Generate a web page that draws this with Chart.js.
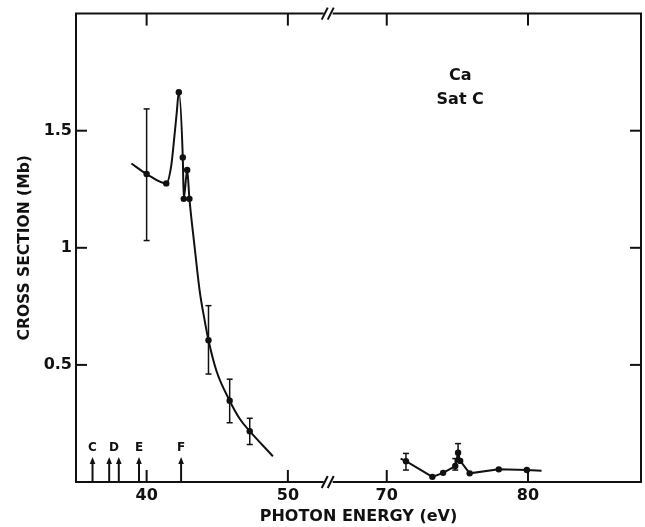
<!DOCTYPE html>
<html>
<head>
<meta charset="utf-8">
<script src="https://cdn.jsdelivr.net/npm/chart.js@4.4.0/dist/chart.umd.min.js"></script>
<style>
  html, body { margin: 0; padding: 0; background: #fff; }
  canvas { display: block; }
</style>
</head>
<body>
<canvas id="chart" width="645" height="527"></canvas>
<script>
// x axis is broken: 52.75 .. 65.75 eV is cut out
const BREAK_AT = 52.75;
const BREAK_GAP = 13;
const toAxis = e => (e >= BREAK_AT + BREAK_GAP ? e - BREAK_GAP : e);
const fromAxis = v => (v > BREAK_AT ? v + BREAK_GAP : v);

const X_TICKS = [40, 50, 70, 80];
const Y_TICKS = [0.5, 1, 1.5];
const Y_TICK_LABELS = ["0.5", "1", "1.5"];

// measured points (eV, Mb)
const ptE     = [40.0, 41.39, 42.28, 42.56, 42.63, 42.87, 43.03, 44.38, 45.88, 47.3,
                 71.36, 73.23, 73.99, 74.85, 75.05, 75.2, 75.87, 77.93, 79.92];
const ptSigma = [1.315, 1.275, 1.664, 1.386, 1.209, 1.332, 1.209, 0.605, 0.347, 0.217,
                 0.089, 0.022, 0.039, 0.068, 0.125, 0.09, 0.037, 0.054, 0.051];

// error bars
const errE  = [40.0, 44.38, 45.88, 47.3, 71.36, 74.85, 75.05];
const errLo = [1.031, 0.461, 0.253, 0.160, 0.051, 0.051, 0.09];
const errHi = [1.593, 0.753, 0.439, 0.272, 0.122, 0.100, 0.164];

// guide curves through the data
const curveLowE     = [38.92, 40.0, 41.39, 41.74, 41.97, 42.13, 42.28, 42.56, 42.63, 42.87, 43.03,
                       43.41, 43.76, 44.12, 44.38, 44.94, 45.88, 46.59, 47.3, 48.94];
const curveLowSigma = [1.36, 1.315, 1.275, 1.35, 1.478, 1.576, 1.664, 1.386, 1.209, 1.332, 1.209,
                       0.997, 0.814, 0.686, 0.605, 0.475, 0.347, 0.27, 0.217, 0.11];
const curveHighE     = [70.98, 71.36, 73.23, 73.99, 74.85, 75.05, 75.2, 75.87, 77.93, 79.92, 80.96];
const curveHighSigma = [0.100, 0.089, 0.022, 0.039, 0.068, 0.125, 0.09, 0.037, 0.054, 0.051, 0.048];

// satellite thresholds
const arrowE = [36.17, 37.35, 38.03, 39.46, 42.44];
const arrowTop = 0.107;
const arrowLabels = ["C", "D", "E", "F"];
const arrowLabelE = [36.17, 37.69, 39.46, 42.44];

const INK = "#111";
const FONT = "'DejaVu Sans', 'Liberation Sans', sans-serif";

const xy = (es, ss) => es.map((e, i) => ({ x: toAxis(e), y: ss[i] }));

const decorations = {
  id: "decorations",
  afterDatasetsDraw(chart) {
    const { ctx, chartArea: a, scales: { x, y } } = chart;
    const seg = (x1, y1, x2, y2) => { ctx.beginPath(); ctx.moveTo(x1, y1); ctx.lineTo(x2, y2); ctx.stroke(); };
    ctx.save();
    ctx.strokeStyle = INK;
    ctx.fillStyle = INK;
    ctx.lineCap = "butt";

    // error bars
    ctx.lineWidth = 1.5;
    errE.forEach((e, i) => {
      const px = x.getPixelForValue(toAxis(e));
      const lo = y.getPixelForValue(errLo[i]), hi = y.getPixelForValue(errHi[i]);
      seg(px, lo, px, hi);
      seg(px - 3, lo, px + 3, lo);
      seg(px - 3, hi, px + 3, hi);
    });

    // frame with the break marks
    ctx.lineWidth = 2;
    const bx = x.getPixelForValue(BREAK_AT);
    [a.top, a.bottom].forEach(yy => {
      seg(a.left - 1, yy, bx - 3, yy);
      seg(bx + 6, yy, a.right + 1, yy);
      seg(bx - 5, yy + 6, bx + 1, yy - 6);
      seg(bx + 1, yy + 6, bx + 7, yy - 6);
    });
    seg(a.left, a.top, a.left, a.bottom);
    seg(a.right, a.top, a.right, a.bottom);

    // inward ticks
    X_TICKS.forEach(t => {
      const px = x.getPixelForValue(toAxis(t));
      seg(px, a.bottom, px, a.bottom - 12);
      seg(px, a.top, px, a.top + 12);
    });
    Y_TICKS.forEach(t => {
      const py = y.getPixelForValue(t);
      seg(a.left, py, a.left + 11, py);
      seg(a.right, py, a.right - 11, py);
    });

    // threshold arrows
    const tip = y.getPixelForValue(arrowTop);
    arrowE.forEach(e => {
      const px = x.getPixelForValue(toAxis(e));
      seg(px, a.bottom, px, tip + 4);
      ctx.beginPath();
      ctx.moveTo(px, tip);
      ctx.lineTo(px - 2.8, tip + 7);
      ctx.lineTo(px + 2.8, tip + 7);
      ctx.closePath();
      ctx.fill();
    });
    ctx.font = "bold 12px " + FONT;
    ctx.textAlign = "center";
    ctx.textBaseline = "middle";
    arrowLabels.forEach((t, i) => {
      ctx.fillText(t, x.getPixelForValue(toAxis(arrowLabelE[i])), y.getPixelForValue(0.146));
    });

    // sample label
    ctx.font = "bold 16px " + FONT;
    const lx = x.getPixelForValue(toAxis(75.2));
    ctx.fillText("Ca", lx, y.getPixelForValue(1.734));
    ctx.fillText("Sat C", lx, y.getPixelForValue(1.633));
    ctx.restore();
  }
};

new Chart(document.getElementById("chart"), {
  type: "scatter",
  data: {
    datasets: [
      {
        type: "line",
        data: xy(curveLowE, curveLowSigma),
        borderColor: INK,
        borderWidth: 2,
        pointRadius: 0,
        cubicInterpolationMode: "monotone",
        fill: false
      },
      {
        type: "line",
        data: xy(curveHighE, curveHighSigma),
        borderColor: INK,
        borderWidth: 2,
        pointRadius: 0,
        tension: 0,
        fill: false
      },
      {
        data: xy(ptE, ptSigma),
        pointRadius: 3.2,
        pointBackgroundColor: INK,
        pointBorderColor: INK,
        pointBorderWidth: 0
      }
    ]
  },
  options: {
    responsive: false,
    animation: false,
    devicePixelRatio: 1,
    layout: { padding: { top: 10, right: 3, left: 0, bottom: 0 } },
    plugins: { legend: { display: false }, tooltip: { enabled: false } },
    scales: {
      x: {
        type: "linear",
        min: 35,
        max: toAxis(88),
        grid: { display: false, drawTicks: false },
        border: { display: false },
        afterBuildTicks: s => { s.ticks = X_TICKS.map(t => ({ value: toAxis(t) })); },
        afterFit: s => { s.height = 45; },
        ticks: {
          autoSkip: false,
          maxRotation: 0,
          padding: 4,
          color: INK,
          font: { family: FONT, size: 16, weight: "bold" },
          callback: v => String(Math.round(fromAxis(v)))
        },
        title: {
          display: true,
          text: "PHOTON ENERGY (eV)",
          color: INK,
          font: { family: FONT, size: 16, weight: "bold" },
          padding: { top: 0, bottom: 1 }
        }
      },
      y: {
        min: 0,
        max: 2,
        grid: { display: false, drawTicks: false },
        border: { display: false },
        afterBuildTicks: s => { s.ticks = Y_TICKS.map(t => ({ value: t })); },
        afterFit: s => { s.width = 76; },
        ticks: {
          padding: 4,
          color: INK,
          font: { family: FONT, size: 16, weight: "bold" },
          callback: (v, i) => Y_TICK_LABELS[i]
        },
        title: {
          display: true,
          text: "CROSS SECTION (Mb)",
          color: INK,
          font: { family: FONT, size: 15.5, weight: "bold" },
          padding: { top: 16, bottom: 0 }
        }
      }
    }
  },
  plugins: [decorations]
});
</script>
</body>
</html>
